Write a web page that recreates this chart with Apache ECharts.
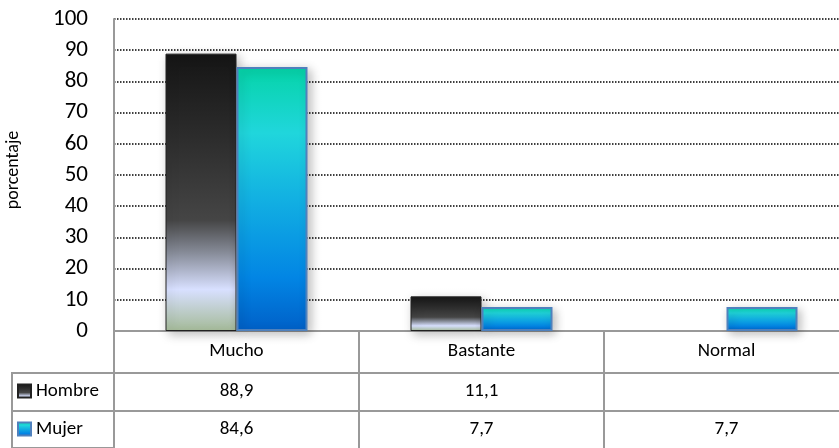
<!DOCTYPE html>
<html>
<head>
<meta charset="utf-8">
<script src="https://cdn.jsdelivr.net/npm/echarts@6/dist/echarts.min.js"></script>
<style>
  html, body { margin: 0; padding: 0; background: #fff; }
  #main { width: 839px; height: 448px; }
</style>
</head>
<body>
<div id="main"></div>
<script>
// datos
var categorias = ['Mucho', 'Bastante', 'Normal']
var hombre = [88.9, 11.1, null]
var mujer = [84.6, 7.7, 7.7]
var yTicks = [0, 10, 20, 30, 40, 50, 60, 70, 80, 90, 100]

var FONT = 'Carlito, Lato, "Open Sans", sans-serif'
var GRIS = '#999'

function fmt(v) {
  return v == null ? '' : String(v).replace('.', ',')
}

var gradHombre = new echarts.graphic.LinearGradient(0, 0, 0, 1, [
  { offset: 0, color: '#151515' },
  { offset: 0.3, color: '#2c2c2c' },
  { offset: 0.6, color: '#454545' },
  { offset: 0.72, color: '#888d9a' },
  { offset: 0.85, color: '#d8e0ff' },
  { offset: 1, color: '#a4ba98' }
])
var gradMujer = new echarts.graphic.LinearGradient(0, 0, 0, 1, [
  { offset: 0, color: '#05d4a8' },
  { offset: 0.25, color: '#20d6dc' },
  { offset: 0.5, color: '#12b0e2' },
  { offset: 0.8, color: '#0285e4' },
  { offset: 1, color: '#0060c8' }
])

var myChart = echarts.init(document.getElementById('main'))
myChart.setOption({
  animation: false,
  backgroundColor: '#fff',
  textStyle: { fontFamily: FONT },
  grid: { left: 114, top: 19, bottom: 117, width: 735, outerBoundsMode: 'none', containLabel: false },
  legend: {
    orient: 'vertical',
    left: 17,
    top: 381,
    height: 67,
    padding: 0,
    icon: 'rect',
    itemWidth: 13,
    itemHeight: 13,
    itemGap: 18,
    textStyle: { fontSize: 19, lineHeight: 20, color: '#000', fontFamily: FONT, padding: [0, 0, 0, 0] },
    data: ['Hombre', 'Mujer']
  },
  xAxis: [
    {
      type: 'category',
      data: categorias,
      position: 'bottom',
      axisLine: { lineStyle: { color: GRIS, width: 2 } },
      axisTick: { show: true, length: 117, lineStyle: { color: GRIS, width: 2 } },
      axisLabel: { fontSize: 19, color: '#000', margin: 11 }
    },
    {
      type: 'category',
      data: categorias,
      position: 'bottom',
      offset: 42,
      axisLine: { lineStyle: { color: GRIS, width: 2 } },
      axisTick: { show: false },
      axisLabel: {
        fontSize: 19, color: '#000', margin: 9,
        formatter: function (v, i) { return fmt(hombre[i]) }
      }
    },
    {
      type: 'category',
      data: categorias,
      position: 'bottom',
      offset: 80,
      axisLine: { lineStyle: { color: GRIS, width: 2 } },
      axisTick: { show: false },
      axisLabel: {
        fontSize: 19, color: '#000', margin: 9,
        formatter: function (v, i) { return fmt(mujer[i]) }
      }
    }
  ],
  yAxis: {
    type: 'value',
    min: yTicks[0],
    max: yTicks[yTicks.length - 1],
    interval: 10,
    name: 'porcentaje',
    nameLocation: 'middle',
    nameGap: 92,
    nameTextStyle: { fontSize: 18, color: '#000', fontFamily: FONT, padding: [0, 0, 0, 10] },
    axisLine: { show: true, lineStyle: { color: GRIS, width: 2 } },
    axisTick: { show: false },
    axisLabel: { fontSize: 23, color: '#000', margin: 26 },
    splitLine: { lineStyle: { color: '#000', type: 'dotted', width: 1.5 } }
  },
  graphic: [
    { type: 'rect', shape: { x: 12, y: 373, width: 102, height: 75 }, style: { fill: 'none', stroke: GRIS, lineWidth: 2 } },
    { type: 'line', shape: { x1: 12, y1: 411, x2: 114, y2: 411 }, style: { stroke: GRIS, lineWidth: 2 } }
  ],
  series: [
    {
      name: 'Hombre',
      type: 'bar',
      data: hombre,
      barWidth: 71,
      barGap: '0%',
      itemStyle: {
        color: gradHombre,
        borderColor: '#222',
        borderWidth: 1,
        shadowBlur: 10,
        shadowColor: 'rgba(0,0,0,0.25)',
        shadowOffsetX: 3,
        shadowOffsetY: 3
      }
    },
    {
      name: 'Mujer',
      type: 'bar',
      data: mujer,
      barWidth: 71,
      barGap: '0%',
      itemStyle: {
        color: gradMujer,
        borderColor: '#4f81bd',
        borderWidth: 2,
        shadowBlur: 10,
        shadowColor: 'rgba(0,0,0,0.25)',
        shadowOffsetX: 3,
        shadowOffsetY: 3
      }
    }
  ]
})
</script>
</body>
</html>
